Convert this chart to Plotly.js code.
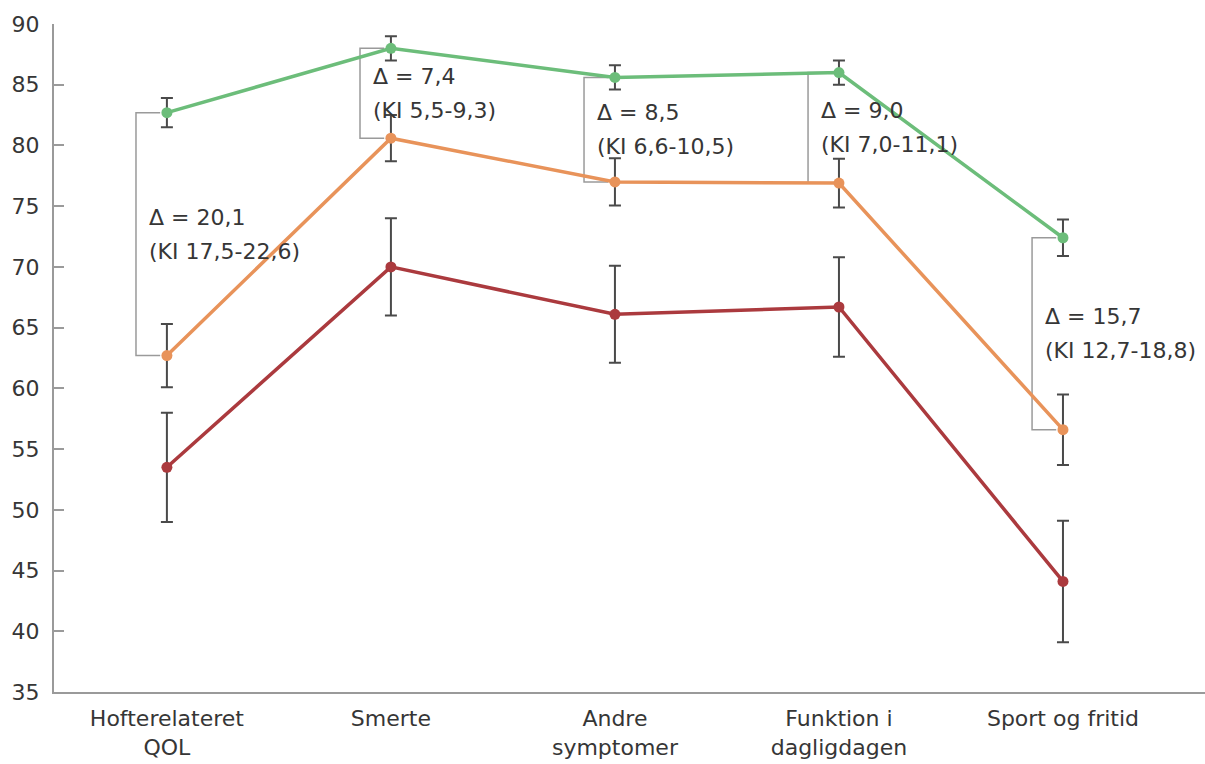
<!DOCTYPE html>
<html>
<head>
<meta charset="utf-8">
<script src="https://cdn.plot.ly/plotly-3.0.1.min.js"></script>
<style>html,body{margin:0;padding:0;background:#fff;}#chart{width:1205px;height:764px;}</style>
</head>
<body>
<div id="chart"></div>
<script>
const categories = ['Hofterelateret<br>QOL', 'Smerte', 'Andre<br>symptomer', 'Funktion i<br>dagligdagen', 'Sport og fritid'];
const greenValues = [82.7, 88.0, 85.6, 86.0, 72.4];
const greenErr = [1.2, 1.0, 1.0, 1.0, 1.5];
const orangeValues = [62.7, 80.6, 77.0, 76.9, 56.6];
const orangeErr = [2.6, 1.9, 1.95, 2.0, 2.9];
const redValues = [53.5, 70.0, 66.1, 66.7, 44.1];
const redErr = [4.5, 4.0, 4.0, 4.1, 5.0];
const deltaLabels = ['Δ = 20,1', 'Δ = 7,4', 'Δ = 8,5', 'Δ = 9,0', 'Δ = 15,7'];
const ciLabels = ['(KI 17,5-22,6)', '(KI 5,5-9,3)', '(KI 6,6-10,5)', '(KI 7,0-11,1)', '(KI 12,7-18,8)'];

const xIdx = categories.map((c, i) => i);
const FONT = 'DejaVu Sans, Liberation Sans, sans-serif';
const TXT = '#363636';
const bracketOff = 0.138;
const bracketEnd = 0.03;

const traces = [];
// brackets
xIdx.forEach(i => {
  traces.push({
    x: [i - bracketEnd, i - bracketOff, i - bracketOff, i - bracketEnd],
    y: [greenValues[i], greenValues[i], orangeValues[i], orangeValues[i]],
    mode: 'lines', type: 'scatter', hoverinfo: 'skip', showlegend: false,
    line: {color: '#9a9a9a', width: 1.5}, cliponaxis: false
  });
});
function series(vals, errs, color) {
  return {
    x: xIdx, y: vals, type: 'scatter', mode: 'lines+markers', showlegend: false,
    line: {color: color, width: 3.5},
    marker: {color: color, size: 11},
    error_y: {type: 'data', array: errs, visible: true, color: '#4a4a4a', thickness: 2, width: 6},
    cliponaxis: false
  };
}
traces.push(series(redValues, redErr, '#ab3a3e'));
traces.push(series(orangeValues, orangeErr, '#e8935a'));
traces.push(series(greenValues, greenErr, '#6cbd7a'));

const annotations = [];
xIdx.forEach(i => {
  const mid = (greenValues[i] + orangeValues[i]) / 2;
  annotations.push({x: i, y: mid, xref: 'x', yref: 'y', text: deltaLabels[i], showarrow: false,
    xanchor: 'left', yanchor: 'middle', xshift: -20, yshift: 17, font: {family: FONT, size: 22, color: TXT}});
  annotations.push({x: i, y: mid, xref: 'x', yref: 'y', text: ciLabels[i], showarrow: false,
    xanchor: 'left', yanchor: 'middle', xshift: -20, yshift: -17, font: {family: FONT, size: 22, color: TXT}});
});

const layout = {
  width: 1205, height: 764,
  margin: {l: 54, r: 0, t: 24, b: 72},
  paper_bgcolor: '#fff', plot_bgcolor: '#fff',
  showlegend: false,
  font: {family: FONT, size: 22, color: TXT},
  xaxis: {
    range: [-0.504, 4.634], tickvals: xIdx, ticktext: categories,
    showgrid: false, zeroline: false, showline: true, linecolor: '#9a9a9a', linewidth: 2,
    ticks: '', ticklabelstandoff: 6,
    tickfont: {family: FONT, size: 22, color: TXT}, fixedrange: true
  },
  yaxis: {
    range: [35, 90], dtick: 5, tick0: 35,
    showgrid: false, zeroline: false, showline: true, linecolor: '#9a9a9a', linewidth: 2,
    ticks: 'inside', ticklen: 10, tickcolor: '#9a9a9a', tickwidth: 2,
    ticklabelstandoff: 8,
    tickfont: {family: FONT, size: 22, color: TXT}, fixedrange: true
  },
  annotations: annotations
};
Plotly.newPlot('chart', traces, layout, {displayModeBar: false, staticPlot: true});
</script>
</body>
</html>
